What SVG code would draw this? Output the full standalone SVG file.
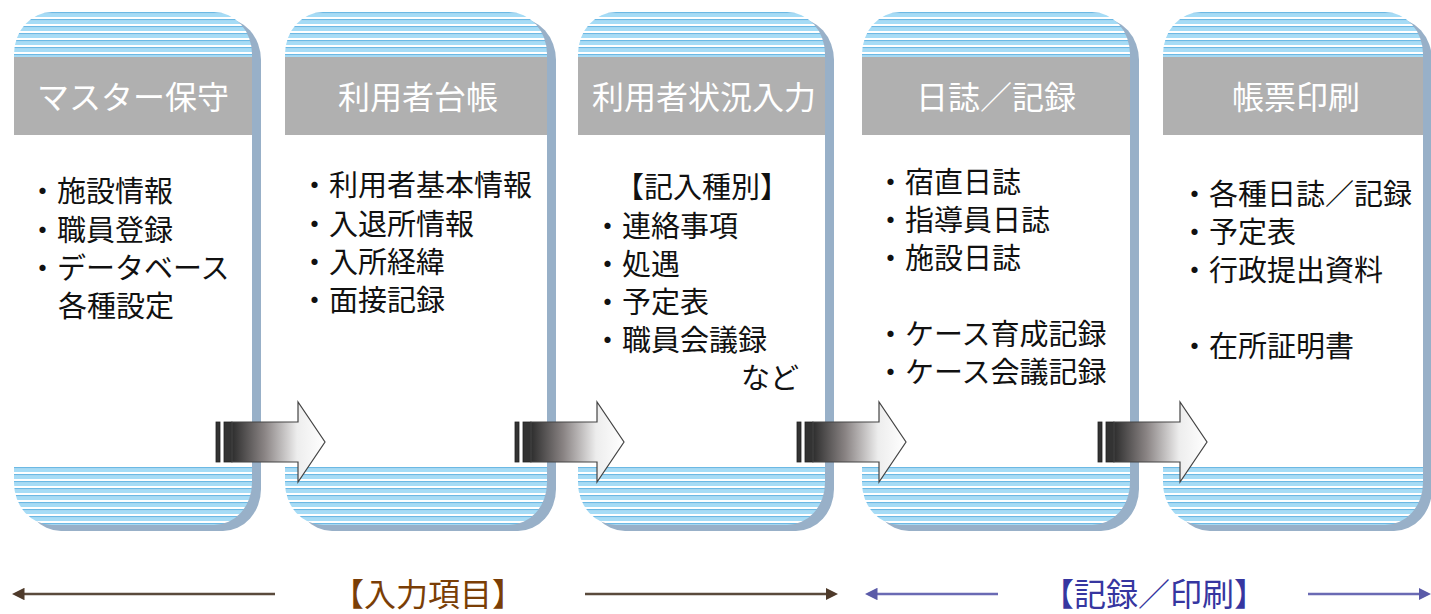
<svg xmlns="http://www.w3.org/2000/svg" width="1431" height="614" viewBox="0 0 1431 614">
<defs>
<pattern id="stripe" patternUnits="userSpaceOnUse" x="0" y="12" width="10" height="7">
<rect width="10" height="7" fill="#ffffff"/>
<rect y="0" width="10" height="1.6" fill="#6cb9e4"/>
<rect y="1.6" width="10" height="3.4" fill="#a6dcf6"/>
</pattern>
<linearGradient id="ag" x1="0" y1="0" x2="1" y2="0">
<stop offset="0" stop-color="#2e2e2e"/>
<stop offset="0.35" stop-color="#8a8484"/>
<stop offset="0.7" stop-color="#ededed"/>
<stop offset="1" stop-color="#ffffff"/>
</linearGradient>
<g id="arr">
<rect x="0" y="20" width="4" height="40" fill="#333" stroke="#222" stroke-width="0.8"/>
<rect x="8" y="20" width="8" height="40" fill="#333" stroke="#222" stroke-width="0.8"/>
<polygon points="16,20 82,20 82,0 109,40 82,80 82,60 16,60" fill="url(#ag)" stroke="#444" stroke-width="1.2" stroke-linejoin="miter"/>
</g>
<marker id="mbrown" viewBox="0 0 10 10" refX="2" refY="5" markerWidth="5" markerHeight="5" orient="auto-start-reverse">
<path d="M0,0 L10,5 L0,10 z" fill="#4e3a2a"/>
</marker>
<marker id="mblue" viewBox="0 0 10 10" refX="2" refY="5" markerWidth="5" markerHeight="5" orient="auto-start-reverse">
<path d="M0,0 L10,5 L0,10 z" fill="#5a5aa8"/>
</marker>
</defs>
<style>
.shadow{fill:#98b0c8}
.card{fill:url(#stripe)}
.body{fill:#ffffff}
.head{fill:#b0b0b0}
.ht{font-family:"Noto Sans CJK JP","Noto Sans CJK SC",sans-serif;font-size:32px;fill:#ffffff;text-anchor:middle}
.t{font-family:"Noto Sans CJK JP","Noto Sans CJK SC",sans-serif;font-size:29px;fill:#111111}
.bl{font-family:"Noto Sans CJK JP","Noto Sans CJK SC",sans-serif;font-size:32px;text-anchor:middle}
</style>
<rect width="1431" height="614" fill="#ffffff"/>

<g id="card1">
<rect class="shadow" x="23" y="18" width="238" height="513" rx="38" ry="42"/>
<rect class="card" x="14" y="12" width="238" height="513" rx="38" ry="42"/>
<rect class="body" x="14" y="135" width="238" height="332"/>
<rect class="head" x="14" y="57" width="238" height="78"/>
<text class="ht" x="133" y="109">マスター保守</text>
<text class="t" x="28" y="202">・施設情報</text>
<text class="t" x="28" y="241">・職員登録</text>
<text class="t" x="28" y="279">・データベース</text>
<text class="t" x="58" y="317">各種設定</text>
</g>

<g id="card2">
<rect class="shadow" x="294" y="18" width="262" height="513" rx="38" ry="42"/>
<rect class="card" x="285" y="12" width="262" height="513" rx="38" ry="42"/>
<rect class="body" x="285" y="135" width="262" height="332"/>
<rect class="head" x="285" y="57" width="262" height="78"/>
<text class="ht" x="418" y="109">利用者台帳</text>
<text class="t" x="300" y="196">・利用者基本情報</text>
<text class="t" x="300" y="235">・入退所情報</text>
<text class="t" x="300" y="273">・入所経緯</text>
<text class="t" x="300" y="311">・面接記録</text>
</g>

<g id="card3">
<rect class="shadow" x="587" y="18" width="247" height="513" rx="38" ry="42"/>
<rect class="card" x="578" y="12" width="247" height="513" rx="38" ry="42"/>
<rect class="body" x="578" y="135" width="247" height="332"/>
<rect class="head" x="578" y="57" width="247" height="78"/>
<text class="ht" x="704" y="109">利用者状況入力</text>
<text class="t" x="615" y="198">【記入種別】</text>
<text class="t" x="593" y="237">・連絡事項</text>
<text class="t" x="593" y="275">・処遇</text>
<text class="t" x="593" y="313">・予定表</text>
<text class="t" x="593" y="351">・職員会議録</text>
<text class="t" x="741" y="389">など</text>
</g>

<g id="card4">
<rect class="shadow" x="871" y="18" width="268" height="513" rx="38" ry="42"/>
<rect class="card" x="862" y="12" width="268" height="513" rx="38" ry="42"/>
<rect class="body" x="862" y="135" width="268" height="332"/>
<rect class="head" x="862" y="57" width="268" height="78"/>
<text class="ht" x="996" y="109">日誌／記録</text>
<text class="t" x="876" y="193">・宿直日誌</text>
<text class="t" x="876" y="231">・指導員日誌</text>
<text class="t" x="876" y="269">・施設日誌</text>
<text class="t" x="876" y="345">・ケース育成記録</text>
<text class="t" x="876" y="383">・ケース会議記録</text>
</g>

<g id="card5">
<rect class="shadow" x="1172" y="18" width="260" height="513" rx="38" ry="42"/>
<rect class="card" x="1163" y="12" width="260" height="513" rx="38" ry="42"/>
<rect class="body" x="1163" y="135" width="260" height="332"/>
<rect class="head" x="1163" y="57" width="260" height="78"/>
<text class="ht" x="1296" y="109">帳票印刷</text>
<text class="t" x="1180" y="205">・各種日誌／記録</text>
<text class="t" x="1180" y="243">・予定表</text>
<text class="t" x="1180" y="281">・行政提出資料</text>
<text class="t" x="1180" y="357">・在所証明書</text>
</g>

<g id="connectors">
<use href="#arr" x="216" y="402"/>
<use href="#arr" x="515" y="402"/>
<use href="#arr" x="797" y="402"/>
<use href="#arr" x="1098" y="402"/>
<line x1="22" y1="594" x2="275" y2="594" stroke="#5a4a3c" stroke-width="2.5" marker-start="url(#mbrown)"/>
<line x1="585" y1="594" x2="828" y2="594" stroke="#5a4a3c" stroke-width="2.5" marker-end="url(#mbrown)"/>
<line x1="875" y1="594" x2="998" y2="594" stroke="#6a6ab4" stroke-width="2.5" marker-start="url(#mblue)"/>
<line x1="1308" y1="594" x2="1421" y2="594" stroke="#6a6ab4" stroke-width="2.5" marker-end="url(#mblue)"/>
</g>

<g id="labels">
<text class="bl" x="428" y="606" fill="#7a3e06">【入力項目】</text>
<text class="bl" x="1154" y="606" fill="#3636a0">【記録／印刷】</text>
</g>
</svg>
